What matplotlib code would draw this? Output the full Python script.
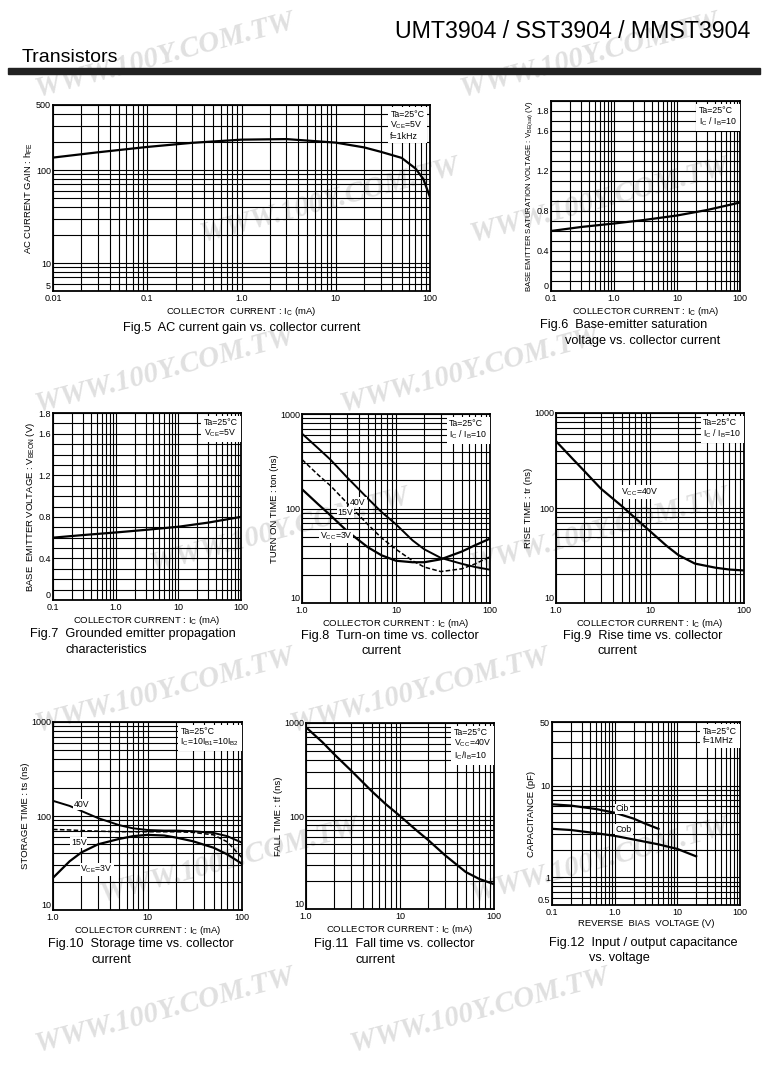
import matplotlib.pyplot as plt
from matplotlib.ticker import LogLocator, MultipleLocator, NullFormatter

plt.rcParams['font.family'] = ['Liberation Sans', 'DejaVu Sans']
plt.rcParams['mathtext.fontset'] = 'custom'
plt.rcParams['mathtext.rm'] = 'Liberation Sans'
plt.rcParams['mathtext.it'] = 'Liberation Sans:italic'
plt.rcParams['mathtext.default'] = 'regular'

W, H = 767, 1067

# Fig.5  AC current gain
ic5 = [0.01, 0.03, 0.1, 0.3, 1.0, 3.0, 10, 20, 30, 50, 70, 85, 100]
hfe5 = [136, 155, 177, 196, 212, 215, 197, 175, 157, 135, 104, 80, 51]

# Fig.6  VBE(sat)
ic6 = [0.1, 0.3, 1.0, 3.0, 10, 30, 100]
vbe6 = [0.60, 0.64, 0.675, 0.71, 0.755, 0.81, 0.885]

# Fig.7  VBE(on)
ic7 = [0.1, 0.3, 1.0, 3.0, 10, 30, 100]
vbe7 = [0.60, 0.625, 0.65, 0.675, 0.705, 0.745, 0.80]

# Fig.8  turn-on time
ic8 = [1, 1.5, 2, 3, 5, 7, 10, 15, 20, 30, 50, 70, 100]
ton_40 = [620, 430, 330, 215, 128, 92, 68, 46, 37, 30, 26, 24, 22.5]
ton_15 = [330, 225, 175, 115, 68, 49, 37, 28, 24, 21.5, 23, 26, 31]
ton_3 = [160, 110, 85, 58, 39, 32, 28, 27, 27, 29, 35, 41, 48]

# Fig.9  rise time
ic9 = [1, 1.5, 2, 3, 5, 7, 10, 15, 20, 30, 50, 70, 100]
tr9 = [505, 330, 245, 160, 105, 78, 57, 40, 32, 26, 23.5, 22.5, 22]

# Fig.10  storage time
ic10 = [1, 1.5, 2, 3, 5, 7, 10, 15, 20, 30, 50, 70, 100]
ts_40 = [145, 128, 113, 95, 80, 74, 71, 70, 70, 69, 66, 61, 52]
ts_15 = [72, 71, 70, 69, 68, 68, 68, 68, 68, 67, 63, 53, 36]
ts_3 = [22, 33, 41, 50, 57, 61, 63, 62, 59, 54, 46, 39, 31]

# Fig.11  fall time
ic11 = [1, 1.5, 2, 3, 5, 7, 10, 15, 20, 30, 50, 70, 100]
tf11 = [900, 620, 460, 310, 185, 135, 100, 70, 55, 38, 25, 21, 18.5]

# Fig.12  capacitance
v_cib = [0.1, 0.2, 0.5, 1, 2, 3, 5]
cib = [6.3, 6.1, 5.6, 5.1, 4.4, 3.9, 3.4]
v_cob = [0.1, 0.2, 0.5, 1, 2, 5, 10, 20]
cob = [3.4, 3.3, 3.05, 2.85, 2.6, 2.3, 2.05, 1.7]

dec_ticks = [1, 10, 100]
dec_labels = ['1.0', '10', '100']
t_ticks = [10, 100, 1000]
t_labels = ['10', '100', '1000']
v_ticks = [0, 0.4, 0.8, 1.2, 1.6, 1.8]
v_labels = ['0', '0.4', '0.8', '1.2', '1.6', '1.8']

fig = plt.figure(figsize=(W / 100, H / 100), dpi=100)

# watermark
for wy, xs in [(55, [165, 590]), (200, [330, 600]), (370, [165, 470]),
               (530, [280, 600]), (690, [165, 420]), (860, [230, 600]),
               (1010, [165, 480])]:
    for wx in xs:
        fig.text(wx / W, 1 - wy / H, 'WWW.100Y.COM.TW', family='Liberation Serif',
                 weight='bold', style='italic', fontsize=21, color='#e0e0e0',
                 rotation=15, ha='center', va='center', zorder=-5)


def ftext(x, y, s, **kw):
    fig.text(x / W, 1 - y / H, s, **kw)


def box(l, t, r, b):
    return fig.add_axes([l / W, 1 - b / H, (r - l) / W, (b - t) / H])


def style(ax, xlim, ylim, xticks, xlabels, yticks, ylabels, ylog=True):
    ax.set_xscale('log')
    ax.xaxis.set_minor_locator(LogLocator(subs=range(2, 10)))
    if ylog:
        ax.set_yscale('log')
        ax.yaxis.set_minor_locator(LogLocator(subs=range(2, 10)))
    else:
        ax.yaxis.set_minor_locator(MultipleLocator(0.1))
    ax.set_xlim(*xlim)
    ax.set_ylim(*ylim)
    ax.set_xticks(xticks, xlabels)
    ax.set_yticks(yticks, ylabels)
    ax.xaxis.set_minor_formatter(NullFormatter())
    ax.yaxis.set_minor_formatter(NullFormatter())
    ax.grid(which='both', color='black', lw=0.8)
    ax.set_axisbelow(True)
    ax.tick_params(which='both', length=0, labelsize=6.5, pad=1.5)
    ax.tick_params(axis='x', pad=2.5)
    ax.get_yticklabels()[0].set_va('bottom')
    ax.set_facecolor('none')
    for s in ax.spines.values():
        s.set_linewidth(1.3)


def note(ax, s):
    ax.text(0.985, 0.975, s, transform=ax.transAxes, ha='right', va='top',
            multialignment='left', fontsize=6.3, linespacing=1.1,
            bbox=dict(fc='white', ec='none', pad=2))


def tag(ax, x, y, s, ha='center'):
    ax.text(x, y, s, ha=ha, va='center', fontsize=6.3,
            bbox=dict(fc='white', ec='none', pad=0.6))


xl_ic = 'COLLECTOR CURRENT : I$_{C}$ (mA)'
kw_lab = dict(fontsize=6.8, labelpad=1)

# header
ftext(750, 32, 'UMT3904 / SST3904 / MMST3904', fontsize=16.7, ha='right', va='center')
ftext(22, 57, 'Transistors', fontsize=14, ha='left', va='center')
fig.add_artist(plt.Rectangle((8 / W, 1 - 74 / H), 752 / W, 6 / H,
                             transform=fig.transFigure, color='#222222'))

# Fig.5
ax = box(53, 105, 430, 291)
style(ax, (0.01, 100), (5, 500), [0.01, 0.1, 1, 10, 100],
      ['0.01', '0.1', '1.0', '10', '100'], [5, 10, 100, 500], ['5', '10', '100', '500'])
ax.plot(ic5, hfe5, color='black', lw=1.6)
note(ax, 'Ta=25°C\nV$_{CE}$=5V\nf=1kHz')
ax.set_xlabel('COLLECTOR  CURRENT : I$_{C}$ (mA)', **kw_lab)
ax.set_ylabel('AC CURRENT GAIN : h$_{FE}$', **kw_lab)
ftext(242, 328, 'Fig.5  AC current gain vs. collector current', fontsize=9.2, ha='center', va='center')

# Fig.6
ax = box(551, 101, 740, 291)
style(ax, (0.1, 100), (0, 1.9), [0.1, 1, 10, 100], ['0.1', '1.0', '10', '100'],
      v_ticks, v_labels, ylog=False)
ax.plot(ic6, vbe6, color='black', lw=1.6)
note(ax, 'Ta=25°C\nI$_{C}$ / I$_{B}$=10')
ax.set_xlabel(xl_ic, **kw_lab)
ax.set_ylabel('BASE EMITTER SATURATION VOLTAGE : V$_{BE(sat)}$ (V)', fontsize=5.6, labelpad=1)
ftext(540, 325, 'Fig.6  Base-emitter saturation', fontsize=9.2, ha='left', va='center')
ftext(565, 341, 'voltage vs. collector current', fontsize=9.2, ha='left', va='center')

# Fig.7
ax = box(53, 413, 241, 600)
style(ax, (0.1, 100), (0, 1.8), [0.1, 1, 10, 100], ['0.1', '1.0', '10', '100'],
      v_ticks, v_labels, ylog=False)
ax.plot(ic7, vbe7, color='black', lw=1.6)
note(ax, 'Ta=25°C\nV$_{CE}$=5V')
ax.set_xlabel(xl_ic, **kw_lab)
ax.set_ylabel('BASE  EMITTER VOLTAGE : V$_{BEON}$ (V)', **kw_lab)
ftext(30, 634, 'Fig.7  Grounded emitter propagation', fontsize=9.2, ha='left', va='center')
ftext(66, 650, 'characteristics', fontsize=9.2, ha='left', va='center')

# Fig.8
ax = box(302, 414, 490, 603)
style(ax, (1, 100), (10, 1000), dec_ticks, dec_labels, t_ticks, t_labels)
ax.plot(ic8, ton_40, color='black', lw=1.4)
ax.plot(ic8, ton_15, color='black', lw=1.1, ls=(0, (3, 1.5)))
ax.plot(ic8, ton_3, color='black', lw=1.6)
tag(ax, 3.95, 117, '40V')
tag(ax, 2.9, 91, '15V')
tag(ax, 2.3, 51, 'V$_{CC}$=3V')
note(ax, 'Ta=25°C\nI$_{C}$ / I$_{B}$=10')
ax.set_xlabel(xl_ic, **kw_lab)
ax.set_ylabel('TURN ON TIME : ton (ns)', **kw_lab)
ftext(301, 636, 'Fig.8  Turn-on time vs. collector', fontsize=9.2, ha='left', va='center')
ftext(362, 651, 'current', fontsize=9.2, ha='left', va='center')

# Fig.9
ax = box(556, 413, 744, 603)
style(ax, (1, 100), (10, 1000), dec_ticks, dec_labels, t_ticks, t_labels)
ax.plot(ic9, tr9, color='black', lw=1.6)
tag(ax, 7.8, 147, 'V$_{CC}$=40V')
note(ax, 'Ta=25°C\nI$_{C}$ / I$_{B}$=10')
ax.set_xlabel(xl_ic, **kw_lab)
ax.set_ylabel('RISE TIME : tr (ns)', **kw_lab)
ftext(563, 636, 'Fig.9  Rise time vs. collector', fontsize=9.2, ha='left', va='center')
ftext(597, 651, 'current', fontsize=9.2, ha='left', va='center')

# Fig.10
ax = box(53, 722, 242, 910)
style(ax, (1, 100), (10, 1000), dec_ticks, dec_labels, t_ticks, t_labels)
ax.plot(ic10, ts_40, color='black', lw=1.4)
ax.plot(ic10, ts_15, color='black', lw=1.1, ls=(0, (3, 1.5)))
ax.plot(ic10, ts_3, color='black', lw=1.6)
tag(ax, 2.0, 133, '40V')
tag(ax, 1.87, 52, '15V')
tag(ax, 2.9, 27, 'V$_{CE}$=3V')
note(ax, 'Ta=25°C\nI$_{C}$=10I$_{B1}$=10I$_{B2}$')
ax.set_xlabel(xl_ic, **kw_lab)
ax.set_ylabel('STORAGE TIME : ts (ns)', **kw_lab)
ftext(48, 944, 'Fig.10  Storage time vs. collector', fontsize=9.2, ha='left', va='center')
ftext(91, 960, 'current', fontsize=9.2, ha='left', va='center')

# Fig.11
ax = box(306, 723, 494, 909)
style(ax, (1, 100), (10, 1000), dec_ticks, dec_labels, t_ticks, t_labels)
ax.plot(ic11, tf11, color='black', lw=1.6)
note(ax, 'Ta=25°C\nV$_{CC}$=40V\nI$_{C}$/I$_{B}$=10')
ax.set_xlabel(xl_ic, **kw_lab)
ax.set_ylabel('FALL TIME : tf (ns)', **kw_lab)
ftext(314, 944, 'Fig.11  Fall time vs. collector', fontsize=9.2, ha='left', va='center')
ftext(356, 960, 'current', fontsize=9.2, ha='left', va='center')

# Fig.12
ax = box(552, 722, 740, 905)
style(ax, (0.1, 100), (0.5, 50), [0.1, 1, 10, 100], ['0.1', '1.0', '10', '100'],
      [0.5, 1, 10, 50], ['0.5', '1', '10', '50'])
ax.plot(v_cib, cib, color='black', lw=1.6)
ax.plot(v_cob, cob, color='black', lw=1.6)
tag(ax, 1.05, 5.6, 'Cib', ha='left')
tag(ax, 1.05, 3.35, 'Cob', ha='left')
note(ax, 'Ta=25°C\nf=1MHz')
ax.set_xlabel('REVERSE  BIAS  VOLTAGE (V)', **kw_lab)
ax.set_ylabel('CAPACITANCE (pF)', **kw_lab)
ftext(549, 943, 'Fig.12  Input / output capacitance', fontsize=9.2, ha='left', va='center')
ftext(589, 958, 'vs. voltage', fontsize=9.2, ha='left', va='center')

fig.savefig('out.png', dpi=100)
